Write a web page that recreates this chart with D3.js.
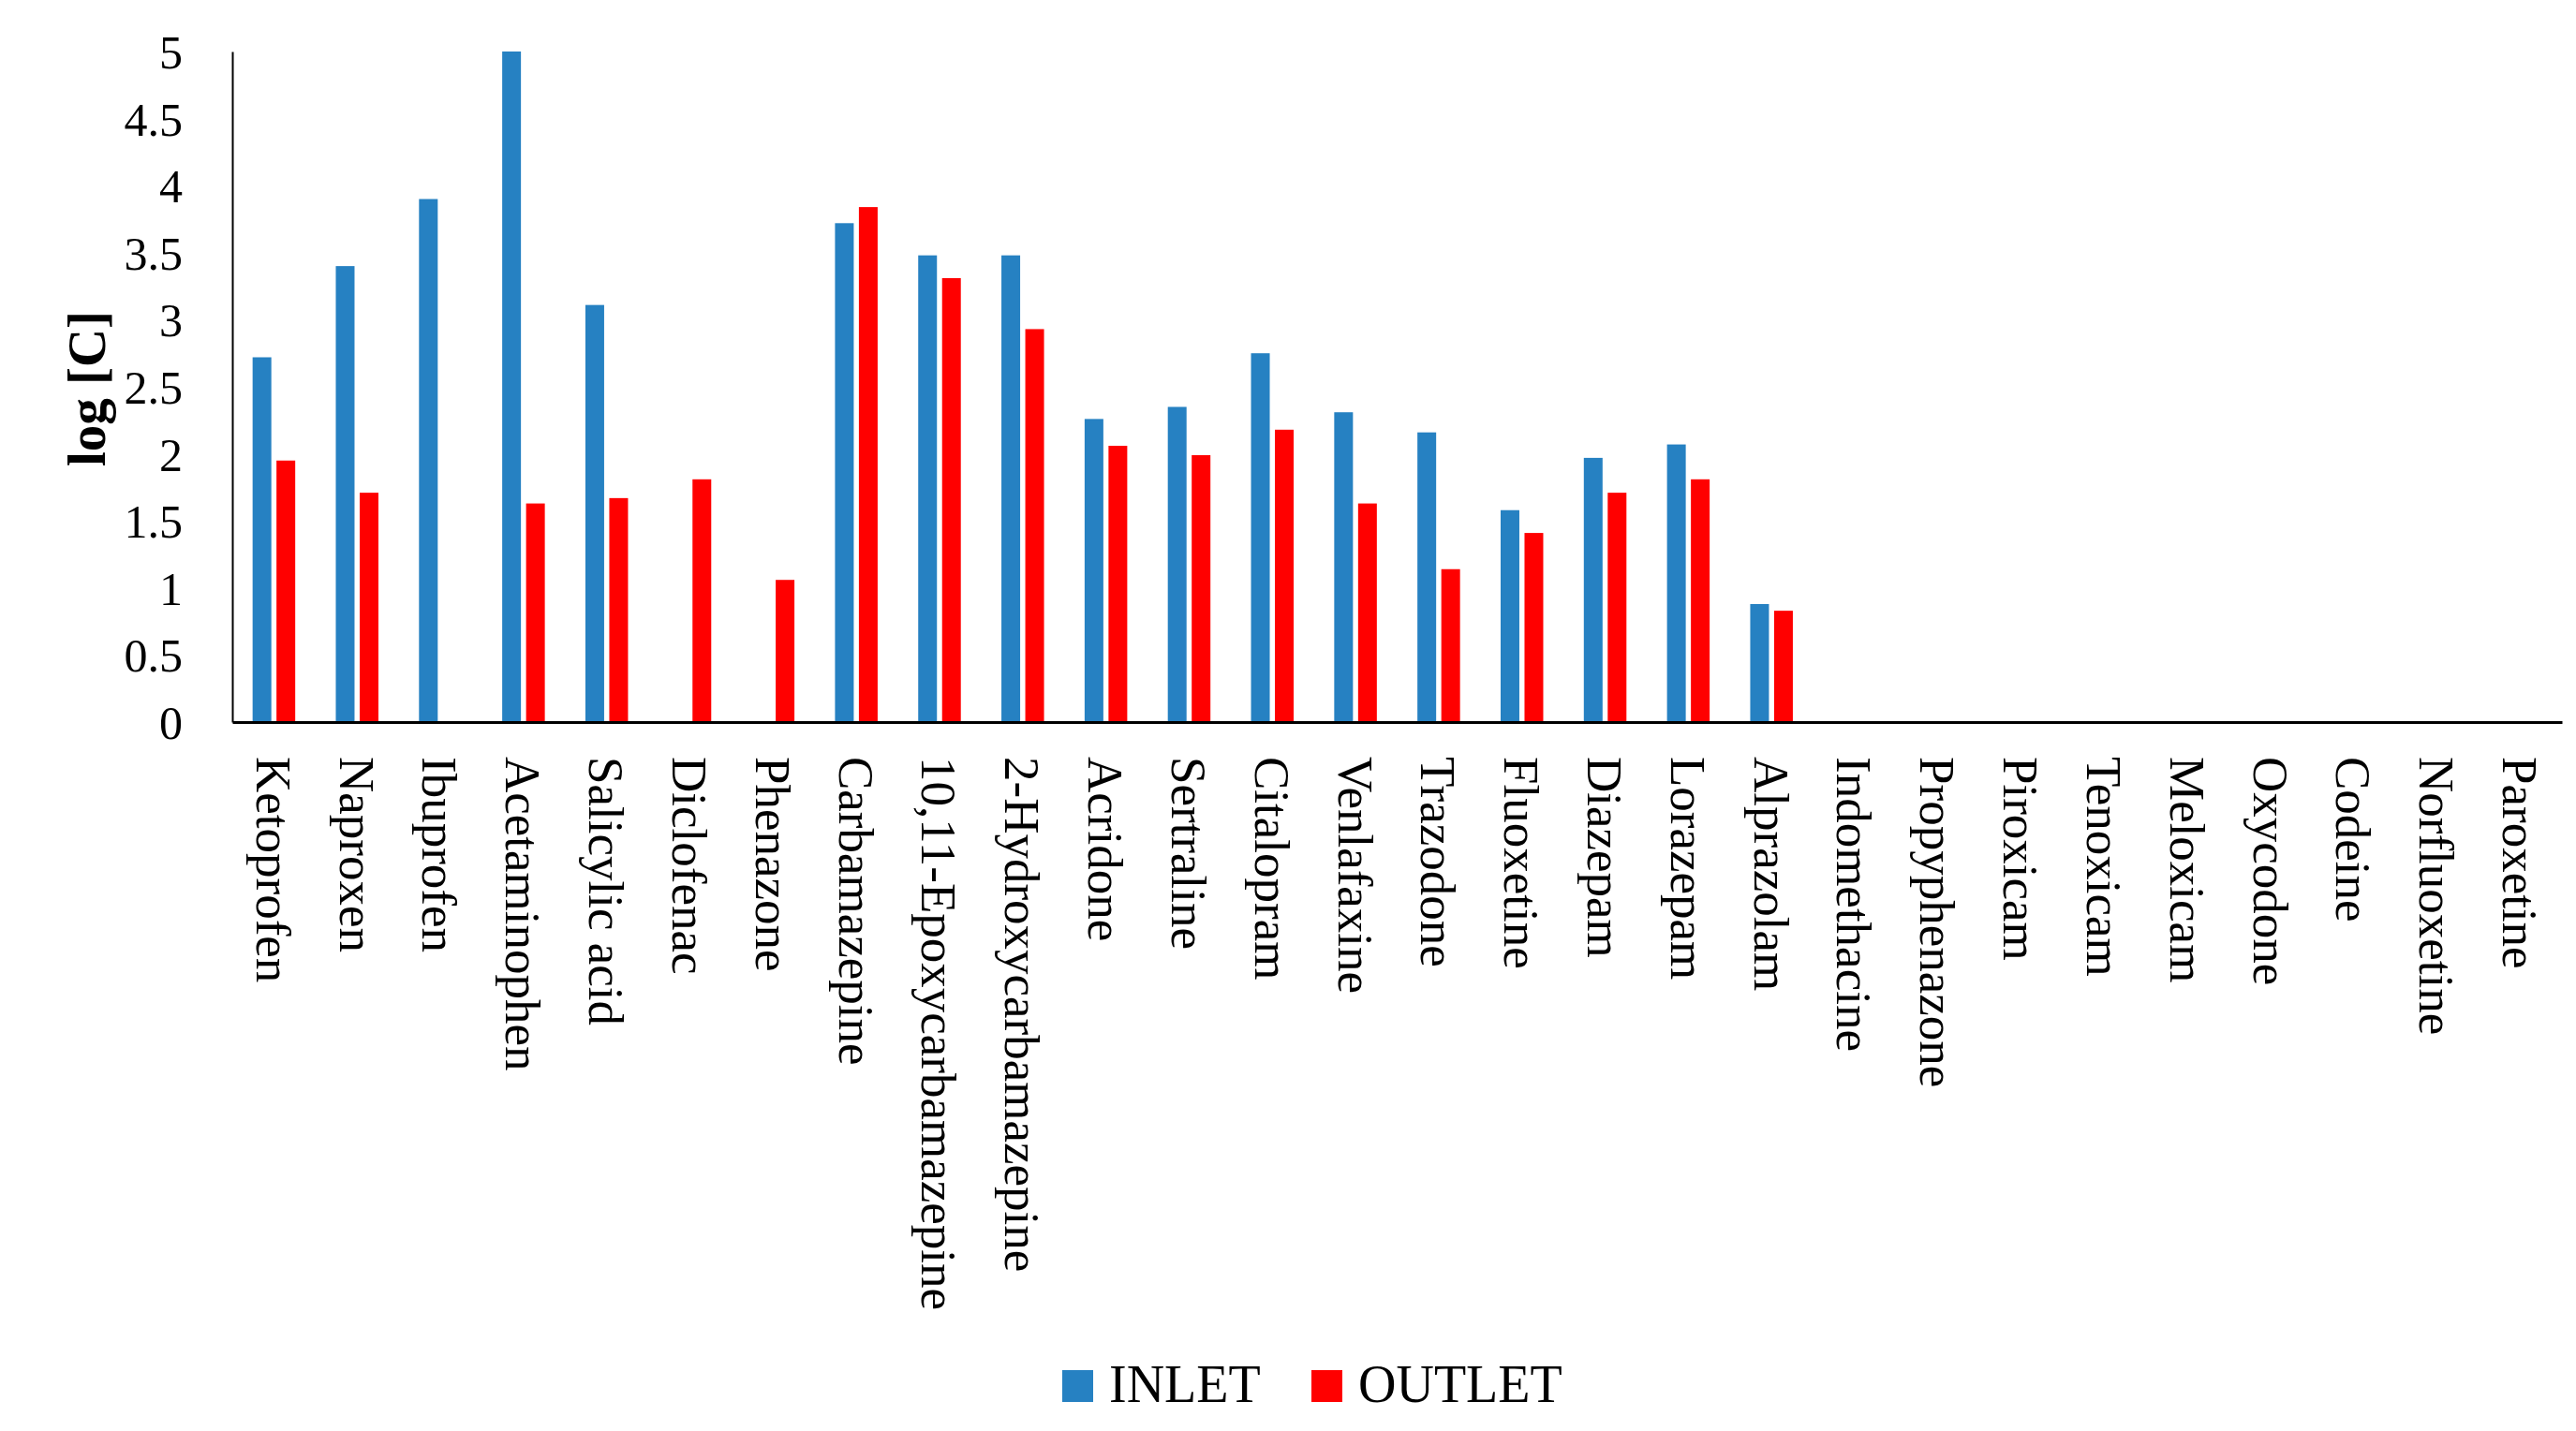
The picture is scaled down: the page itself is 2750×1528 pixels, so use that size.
<!DOCTYPE html>
<html>
<head>
<meta charset="utf-8">
<script src="https://cdn.jsdelivr.net/npm/d3@7"></script>
<style>
  html, body { margin: 0; padding: 0; background: #fff; }
  svg { display: block; }
  text { font-family: "Liberation Serif", "Times New Roman", serif; fill: #000; }
</style>
</head>
<body>
<svg id="chart" width="2750" height="1528"></svg>
<script>
// ---- data ----
const categories = [
  "Ketoprofen", "Naproxen", "Ibuprofen", "Acetaminophen", "Salicylic acid",
  "Diclofenac", "Phenazone", "Carbamazepine", "10,11-Epoxycarbamazepine",
  "2-Hydroxycarbamazepine", "Acridone", "Sertraline", "Citalopram",
  "Venlafaxine", "Trazodone", "Fluoxetine", "Diazepam", "Lorazepam",
  "Alprazolam", "Indomethacine", "Propyphenazone", "Piroxicam", "Tenoxicam",
  "Meloxicam", "Oxycodone", "Codeine", "Norfluoxetine", "Paroxetine"
];
const inletValues = [
  2.72, 3.40, 3.90, 5.00, 3.11,
  null, null, 3.72, 3.48,
  3.48, 2.26, 2.35, 2.75,
  2.31, 2.16, 1.58, 1.97, 2.07,
  0.88, null, null, null, null,
  null, null, null, null, null
];
const outletValues = [
  1.95, 1.71, null, 1.63, 1.67,
  1.81, 1.06, 3.84, 3.31,
  2.93, 2.06, 1.99, 2.18,
  1.63, 1.14, 1.41, 1.71, 1.81,
  0.83, null, null, null, null,
  null, null, null, null, null
];
const seriesNames = ["INLET", "OUTLET"];
const seriesColors = ["#2681C2", "#FF0000"];
const yTicks = [0, 0.5, 1, 1.5, 2, 2.5, 3, 3.5, 4, 4.5, 5];
const yTitle = "log [C]";

// ---- layout ----
const svg = d3.select("#chart");
const plotLeft = 248, plotRight = 2735, plotTop = 55, plotBottom = 771;

const x = d3.scaleBand().domain(categories).range([plotLeft, plotRight]).padding(0);
const barW = 20, gap = 5.5;
const pairW = barW * 2 + gap;
const xs = d3.scaleBand().domain(seriesNames)
  .range([(x.bandwidth() - pairW) / 2, (x.bandwidth() + pairW) / 2])
  .paddingInner(gap / (barW + gap)).paddingOuter(0);
const y = d3.scaleLinear().domain([0, 5]).range([plotBottom, plotTop]);

const rows = categories.map((c, i) => ({ cat: c, vals: [inletValues[i], outletValues[i]] }));

// bars
const g = svg.append("g");
rows.forEach(r => {
  r.vals.forEach((v, k) => {
    if (v == null) return;
    g.append("rect")
      .attr("x", x(r.cat) + xs(seriesNames[k]))
      .attr("y", y(v))
      .attr("width", xs.bandwidth())
      .attr("height", y(0) - y(v))
      .attr("fill", seriesColors[k]);
  });
});

// y axis
const yAxis = svg.append("g")
  .attr("transform", `translate(${plotLeft},0)`)
  .call(d3.axisLeft(y).tickValues(yTicks).tickFormat(d => String(d)).tickSize(0).tickPadding(53));
yAxis.select(".domain").attr("stroke", "#000").attr("stroke-width", 2);
yAxis.selectAll("text").style("font-size", "50px").attr("dy", "0.35em");

// x axis
const xAxis = svg.append("g")
  .attr("transform", `translate(0,${plotBottom})`)
  .call(d3.axisBottom(x).tickSize(0));
xAxis.select(".domain").attr("stroke", "#000").attr("stroke-width", 3);
xAxis.selectAll(".tick text")
  .style("font-size", "53px")
  .attr("text-anchor", "start")
  .attr("transform", "rotate(90)")
  .attr("x", 37)
  .attr("y", 0)
  .attr("dy", "0.35em");

// y title
svg.append("text")
  .attr("transform", "translate(112,415) rotate(-90)")
  .attr("text-anchor", "middle")
  .style("font-size", "57px")
  .style("font-weight", "bold")
  .text(yTitle);

// legend
const legendPos = [1134, 1400];
seriesNames.forEach((s, k) => {
  const lx = legendPos[k];
  svg.append("rect")
    .attr("x", lx).attr("y", 1463).attr("width", 33).attr("height", 34)
    .attr("fill", seriesColors[k]);
  svg.append("text")
    .attr("x", lx + 50).attr("y", 1497)
    .style("font-size", "56px")
    .text(s);
});
</script>
</body>
</html>
